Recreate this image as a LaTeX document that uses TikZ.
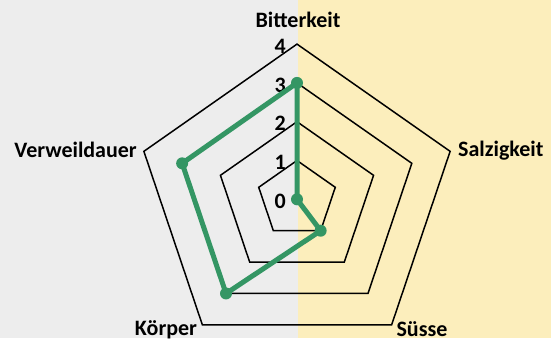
\documentclass[tikz,border=0pt]{standalone}
\usepackage{fontspec}
\setmainfont{Carlito}
\definecolor{taste}{RGB}{52,150,100}
\definecolor{leftbg}{RGB}{237,237,237}
\definecolor{rightbg}{RGB}{252,238,188}
\tikzset{
  ring/.style={line width=1.5pt,line join=miter},
  profile/.style={line width=5pt,draw=taste,line join=round},
  tastedot/.style={circle,fill=taste,inner sep=0pt,minimum size=12pt},
  axislabel/.style={font=\fontsize{22}{26}\selectfont\bfseries,inner sep=0pt},
  ticklabel/.style={font=\fontsize{22}{26}\selectfont\bfseries,anchor=east,inner sep=0pt}
}
\begin{document}
\begin{tikzpicture}[x=40.25pt,y=38.8pt]
\useasboundingbox (-297pt,-138.7pt) rectangle (254pt,199.3pt);
\fill[leftbg] (-297pt,-138.7pt) rectangle (0.5pt,199.3pt);
\fill[rightbg] (0.5pt,-138.7pt) rectangle (254pt,199.3pt);

% rings of the chart
\foreach \r in {1,...,4}
  \draw[ring] (90:\r) -- (18:\r) -- (-54:\r) -- (-126:\r) -- (162:\r) -- cycle;

\foreach \r in {0,...,4}
  \node[ticklabel,xshift=-11pt,yshift=-2pt] (t\r) at (0,\r) {\r};

% tasting profile
\coordinate (bitter) at (90:3);
\coordinate (salt) at (18:0);
\coordinate (sweet) at (-54:1);
\coordinate (body) at (-126:3);
\coordinate (linger) at (162:3);
\draw[profile] (bitter) -- (salt) -- (sweet) -- (body) -- (linger) -- cycle;
\foreach \p in {bitter,salt,sweet,body,linger}
  \node[tastedot] (d-\p) at (\p) {};

\node[axislabel] (lbitter) at (1pt,179pt) {Bitterkeit};
\node[axislabel,anchor=west] (lsalt) at (161pt,49pt) {Salzigkeit};
\node[axislabel] (lsweet) at (125pt,-130pt) {Süsse};
\node[axislabel] (lbody) at (-131pt,-130pt) {Körper};
\node[axislabel,anchor=east] (llinger) at (-160pt,49pt) {Verweildauer};
\end{tikzpicture}
\end{document}
